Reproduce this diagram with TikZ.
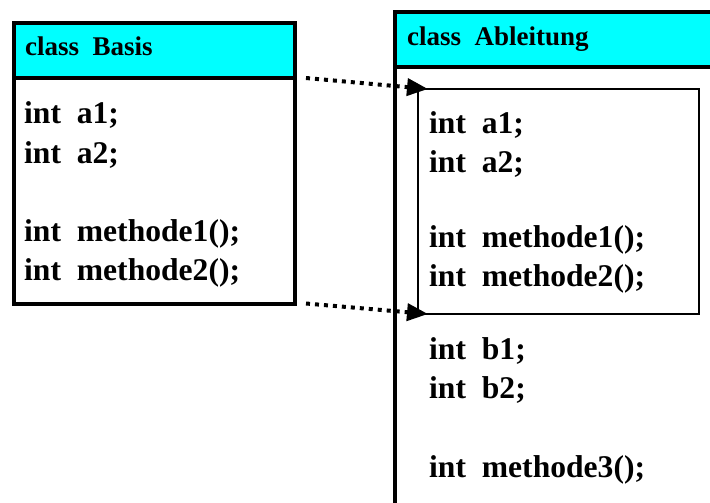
\documentclass[tikz,border=0pt]{standalone}
\usepackage{fontspec}
\setmainfont{Liberation Serif}
\usetikzlibrary{arrows.meta,calc}
\definecolor{hdrcyan}{RGB}{0,255,255}
\tikzset{
  classbox/.style={draw=black, line width=4pt, inner sep=0pt, outer sep=0pt, rectangle},
  hdrbox/.style={classbox, fill=hdrcyan},
  innerbox/.style={draw=black, line width=1.6pt, inner sep=0pt, outer sep=0pt, rectangle},
  hdrtext/.style={anchor=base west, inner sep=0pt, font=\fontsize{27}{27}\selectfont\bfseries},
  bodytext/.style={anchor=base west, inner sep=0pt, font=\fontsize{31.6}{31.6}\selectfont\bfseries},
  dotarrow/.style={line width=4pt, dash pattern=on 4pt off 5pt, -{Triangle[length=21pt,width=17pt]}}
}
\begin{document}
\begin{tikzpicture}[x=1pt,y=-1pt]
\useasboundingbox (0,0) rectangle (710,503);
\clip (0,0) rectangle (710,503);
\fill[white] (0,0) rectangle (710,503);
% Basis
\node[classbox, minimum width=281pt, minimum height=280pt] (basis) at (154.5,163.5) {};
\node[hdrbox, minimum width=281pt, minimum height=54.5pt] (bhead) at (154.5,50.75) {};
\node[hdrtext] (bt) at (25,56) {class\ \ Basis};
\node[bodytext] (ba1) at (24,124) {int\ \ a1;};
\node[bodytext] (ba2) at (24,163) {int\ \ a2;};
\node[bodytext] (bm1) at (24,241) {int\ \ methode1();};
\node[bodytext] (bm2) at (24,280) {int\ \ methode2();};
% Ableitung
\node[classbox, minimum width=345pt, minimum height=528pt] (abl) at (567.5,276) {};
\node[hdrbox, minimum width=345pt, minimum height=55pt] (ahead) at (567.5,39.5) {};
\node[hdrtext] (at) at (407,46) {class\ \ Ableitung};
\node[innerbox, minimum width=281pt, minimum height=225pt] (inner) at (558.5,201.5) {};
\node[bodytext] (aa1) at (429,133) {int\ \ a1;};
\node[bodytext] (aa2) at (429,172) {int\ \ a2;};
\node[bodytext] (am1) at (429,247) {int\ \ methode1();};
\node[bodytext] (am2) at (429,286) {int\ \ methode2();};
\node[bodytext] (ab1) at (429,359) {int\ \ b1;};
\node[bodytext] (ab2) at (429,398) {int\ \ b2;};
\node[bodytext] (am3) at (429,477) {int\ \ methode3();};
% connectors
\coordinate (s1) at ($(basis.east |- bhead.south)+(11,0)$);
\coordinate (s2) at ($(basis.south east)+(11,0)$);
\coordinate (t1) at ($(inner.north west)+(10,0)$);
\coordinate (t2) at ($(inner.south west)+(10,0)$);
\draw[dotarrow] (s1) -- (t1);
\draw[dotarrow] (s2) -- (t2);
\end{tikzpicture}
\end{document}
